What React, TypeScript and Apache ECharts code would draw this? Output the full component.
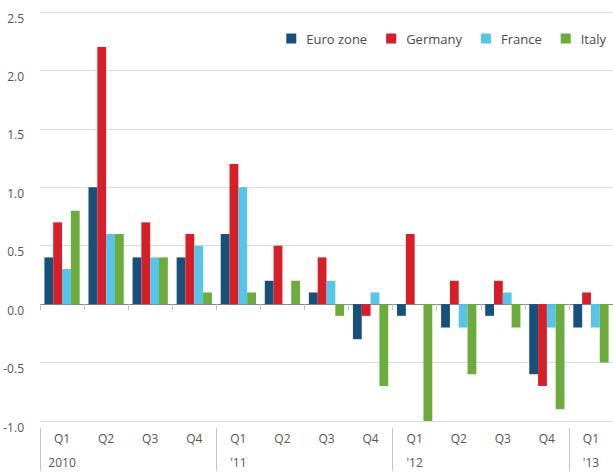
import React, { useEffect, useRef } from "react";
import * as echarts from "echarts";

const quarters = ["Q1", "Q2", "Q3", "Q4", "Q1", "Q2", "Q3", "Q4", "Q1", "Q2", "Q3", "Q4", "Q1"];
const years = ["2010", "", "", "", "'11", "", "", "", "'12", "", "", "", "'13"];

const euroZone = [0.4, 1.0, 0.4, 0.4, 0.6, 0.2, 0.1, -0.3, -0.1, -0.2, -0.1, -0.6, -0.2];
const germany = [0.7, 2.2, 0.7, 0.6, 1.2, 0.5, 0.4, -0.1, 0.6, 0.2, 0.2, -0.7, 0.1];
const france = [0.3, 0.6, 0.4, 0.5, 1.0, 0.0, 0.2, 0.1, 0.0, -0.2, 0.1, -0.2, -0.2];
const italy = [0.8, 0.6, 0.4, 0.1, 0.1, 0.2, -0.1, -0.7, -1.0, -0.6, -0.2, -0.9, -0.5];

const seriesNames = ["Euro zone", "Germany", "France", "Italy"];
const seriesColors = ["#17507a", "#d71f29", "#58c4e8", "#6cab3c"];

const FONT = "'Open Sans', 'Noto Sans', sans-serif";

export default function App() {
  const ref = useRef<HTMLDivElement>(null);
  useEffect(() => {
    if (!ref.current) return;
    const chart = echarts.init(ref.current, undefined, { renderer: "svg" });
    const data = [euroZone, germany, france, italy];
    chart.setOption({
      animation: false,
      backgroundColor: "#ffffff",
      textStyle: { fontFamily: FONT },
      legend: {
        data: seriesNames,
        right: 2,
        top: 27,
        itemWidth: 10,
        itemHeight: 10,
        itemGap: 19,
        icon: "rect",
        textStyle: {
          color: "#4a4a4a",
          fontSize: 13,
          fontFamily: FONT,
          padding: [0, 0, 0, 5],
        },
      },
      grid: { left: 40, right: -2, top: 12, bottom: 52, containLabel: false },
      xAxis: [
        {
          type: "category",
          data: quarters,
          position: "bottom",
          offset: 7,
          axisLine: { show: false },
          axisTick: {
            show: true,
            length: 6,
            interval: 0,
            lineStyle: { color: "#c4c4c4", width: 1 },
          },
          axisLabel: {
            interval: 0,
            margin: 4,
            color: "#555",
            fontSize: 12,
            fontFamily: FONT,
          },
        },
        {
          type: "category",
          data: years,
          position: "bottom",
          offset: 7,
          axisLine: { show: false },
          axisTick: {
            show: true,
            length: 43,
            interval: (i: number) => i % 4 === 0,
            lineStyle: { color: "#c4c4c4", width: 1 },
          },
          axisLabel: {
            interval: 0,
            margin: 28,
            color: "#555",
            fontSize: 12,
            fontFamily: FONT,
          },
        },
      ],
      yAxis: {
        type: "value",
        min: -1,
        max: 2.5,
        interval: 0.5,
        axisLine: { show: false },
        axisTick: { show: false },
        axisLabel: {
          margin: 16,
          color: "#555",
          fontSize: 12,
          fontFamily: FONT,
          verticalAlign: "top",
          formatter: (v: number) => v.toFixed(1),
        },
        splitLine: {
          show: true,
          lineStyle: {
            color: ["#dcdcdc", "#dcdcdc", "#8a8a8a", "#dcdcdc", "#dcdcdc", "#dcdcdc", "#dcdcdc", "#dcdcdc"],
            width: 1,
          },
        },
      },
      series: seriesNames.map((name, i) => ({
        name,
        type: "bar",
        xAxisIndex: 0,
        data: data[i],
        barGap: "0%",
        barCategoryGap: "20%",
        itemStyle: { color: seriesColors[i] },
      })),
    });
    return () => chart.dispose();
  }, []);
  return (
    <div
      ref={ref}
      style={{ position: "fixed", left: 0, top: 0, width: 613, height: 473 }}
    />
  );
}
